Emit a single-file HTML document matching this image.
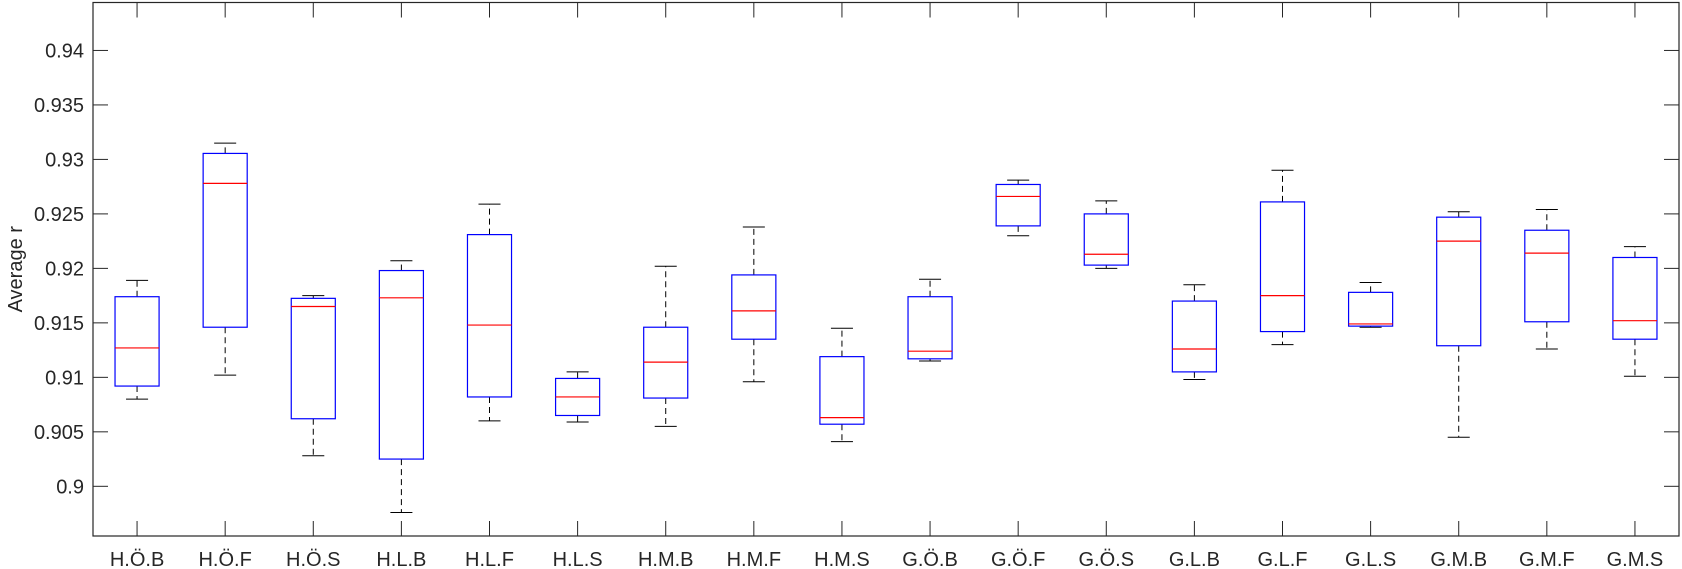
<!DOCTYPE html>
<html><head><meta charset="utf-8"><style>
html,body{margin:0;padding:0;background:#fff;width:1682px;height:569px;overflow:hidden}
svg{display:block;font-family:"Liberation Sans",Arial,sans-serif}
</style></head><body>
<svg id="chart" width="1682" height="569" xmlns="http://www.w3.org/2000/svg"></svg>
<script>
const categories=["H.Ö.B","H.Ö.F","H.Ö.S","H.L.B","H.L.F","H.L.S","H.M.B","H.M.F","H.M.S","G.Ö.B","G.Ö.F","G.Ö.S","G.L.B","G.L.F","G.L.S","G.M.B","G.M.F","G.M.S"];
const maxVals=[0.9189,0.9315,0.9175,0.9207,0.9259,0.9105,0.9202,0.9238,0.9145,0.9190,0.9281,0.9262,0.9185,0.9290,0.9187,0.9252,0.9254,0.9220];
const q3Vals=[0.9174,0.93055,0.91725,0.9198,0.9231,0.9099,0.9146,0.9194,0.9119,0.9174,0.9277,0.9250,0.9170,0.9261,0.9178,0.9247,0.9235,0.9210];
const medVals=[0.9127,0.9278,0.9165,0.9173,0.9148,0.9082,0.9114,0.9161,0.9063,0.9124,0.9266,0.9213,0.9126,0.9175,0.9149,0.9225,0.9214,0.9152];
const q1Vals=[0.9092,0.9146,0.9062,0.9025,0.9082,0.9065,0.9081,0.9135,0.9057,0.9117,0.9239,0.9203,0.9105,0.9142,0.9147,0.9129,0.9151,0.9135];
const minVals=[0.9080,0.9102,0.9028,0.8976,0.9060,0.9059,0.9055,0.9096,0.9041,0.9115,0.9230,0.9200,0.9098,0.9130,0.9146,0.9045,0.9126,0.9101];
const yTicks=[0.9,0.905,0.91,0.915,0.92,0.925,0.93,0.935,0.94];
const yTickLabels=["0.9","0.905","0.91","0.915","0.92","0.925","0.93","0.935","0.94"];

const L=93,R=1679,T=2.5,B=536;
const yMin=0.89544,yMax=0.9444;
const NS="http://www.w3.org/2000/svg";
const svg=document.getElementById('chart');
function y(v){return B-(v-yMin)/(yMax-yMin)*(B-T);}
function x(i){return L+(i+0.5)*(R-L)/categories.length;}
function mk(tag,attrs,parent){const e=document.createElementNS(NS,tag);for(const k in attrs)e.setAttribute(k,attrs[k]);(parent||svg).appendChild(e);return e;}

const axes=mk('g',{});


const frame=mk('rect',{x:L,y:T,width:R-L,height:B-T,fill:'none',stroke:'#262626','stroke-width':1.2},axes);



yTicks.forEach((v,i)=>{
  const yy=y(v);
  mk('line',{x1:L,x2:L+15,y1:yy,y2:yy,stroke:'#262626','stroke-width':1},axes);
  mk('line',{x1:R-15,x2:R,y1:yy,y2:yy,stroke:'#262626','stroke-width':1},axes);
  const t=mk('text',{x:L-9,y:yy+7,'text-anchor':'end','font-size':20,fill:'#262626'},axes);
  t.textContent=yTickLabels[i];
  
  
});
categories.forEach((c,i)=>{
  const xx=x(i);
  mk('line',{x1:xx,x2:xx,y1:B,y2:B-15,stroke:'#262626','stroke-width':1},axes);
  mk('line',{x1:xx,x2:xx,y1:T,y2:T+15,stroke:'#262626','stroke-width':1},axes);
  const t=mk('text',{x:xx,y:566,'text-anchor':'middle','font-size':20,fill:'#262626'},axes);
  t.textContent=c;
  
  
});
const yl=mk('text',{x:0,y:0,'text-anchor':'middle','font-size':20,fill:'#262626',transform:'translate(22,'+((T+B)/2)+') rotate(-90)'});
yl.textContent='Average r';



const boxW=(R-L)/categories.length*0.5, capW=boxW*0.5;
categories.forEach((c,i)=>{
  const g=mk('g',{});
  
  
  const xx=x(i);
  mk('line',{x1:xx,x2:xx,y1:y(q3Vals[i]),y2:y(maxVals[i]),stroke:'#000','stroke-width':1,'stroke-dasharray':'6,4'},g);
  mk('line',{x1:xx,x2:xx,y1:y(q1Vals[i]),y2:y(minVals[i]),stroke:'#000','stroke-width':1,'stroke-dasharray':'6,4'},g);
  mk('line',{x1:xx-capW/2,x2:xx+capW/2,y1:y(maxVals[i]),y2:y(maxVals[i]),stroke:'#000','stroke-width':1},g);
  mk('line',{x1:xx-capW/2,x2:xx+capW/2,y1:y(minVals[i]),y2:y(minVals[i]),stroke:'#000','stroke-width':1},g);
  mk('rect',{x:xx-boxW/2,y:y(q3Vals[i]),width:boxW,height:y(q1Vals[i])-y(q3Vals[i]),fill:'none',stroke:'#0000ff','stroke-width':1.2},g);
  mk('line',{x1:xx-boxW/2,x2:xx+boxW/2,y1:y(medVals[i]),y2:y(medVals[i]),stroke:'#ff0000','stroke-width':1.2},g);
});
</script>
</body></html>
